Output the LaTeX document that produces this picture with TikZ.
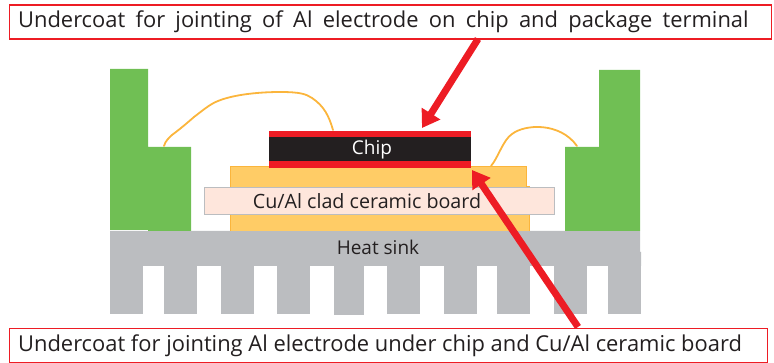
\documentclass[tikz,border=0pt]{standalone}
\usepackage{fontspec}
\setmainfont{Open Sans}
\usetikzlibrary{arrows.meta}
\definecolor{redc}{HTML}{ED1C24}
\definecolor{gr}{HTML}{70BF54}
\definecolor{yel}{HTML}{FFCC66}
\definecolor{yeld}{HTML}{FBB53C}
\definecolor{sink}{HTML}{BBBDC0}
\definecolor{brd}{HTML}{FEE6DC}
\definecolor{blk}{HTML}{231F20}
\tikzset{
 callout/.style={draw=redc,line width=1.3pt,fill=white,inner xsep=9pt,inner ysep=0pt,text=blk,font=\fontsize{21.9}{26}\selectfont,anchor=north west,minimum height=34pt},
 redarrow/.style={draw=redc,line width=7pt,-{Triangle[length=17pt,width=21pt]}},
 wirel/.style={draw=yeld,line width=1.8pt,line cap=round},
 partlabel/.style={inner sep=0pt,text=blk,font=\fontsize{19}{22}\selectfont}
}
\begin{document}
\begin{tikzpicture}[x=1pt,y=-1pt]
\useasboundingbox (0,0) rectangle (774,363);
% heat sink
\fill[sink] (110,231) rectangle (640,266) (640,252) rectangle (641,266);
\foreach \a/\b/\c in {110/143/314,164/197/314,221/254/314,277/310/314,334/364/315,387/420/314,444/477/314,497/530/314,554/587/314,608/641/314}
  \fill[sink] (\a,265) rectangle (\b,\c);
% green terminals
\fill[gr] (110,69) rectangle (148,230) (148,147) rectangle (191,231);
\fill[gr] (599,70) rectangle (640,231) (565,147) rectangle (640,231);
% yellow base
\filldraw[fill=yel,draw=yeld,line width=1pt] (230.5,231) -- (230.5,167) -- (526.5,167) -- (526.5,187) -- (529.5,187) -- (529.5,231);
% board
\node[draw=sink,fill=brd,line width=1.5pt,minimum width=350pt,minimum height=27pt,partlabel,font=\fontsize{19.7}{22}\selectfont] (board) at (379.5,201) {\hspace*{-25pt}Cu/Al clad ceramic board};
% chip
\fill[redc] (269,131) rectangle (471,168);
\node[fill=blk,minimum width=202pt,minimum height=24pt,partlabel,text=white] (chip) at (370,149.5) {\hspace*{4pt}\raisebox{-1.5pt}{Chip}};
\node[partlabel] (hs) at (378,247) {Heat sink};
% wires
\draw[wirel] (164,146) .. controls (165,141) and (170,137) .. (172,135)
  .. controls (180,129) and (186,124) .. (194,117)
  .. controls (202,111) and (210,104) .. (218,101)
  .. controls (235,94) and (262,92) .. (280,92)
  .. controls (300,92) and (306,94) .. (312,98)
  .. controls (324,106) and (329,116) .. (333,130);
\draw[wirel] (491,166) .. controls (498,158) and (503,140) .. (512,134) .. controls (525,124) and (560,122) .. (577,146);
% callouts
\node[callout] (top) at (8.5,4.5) {\makebox[744.5pt][l]{\raisebox{-1.5pt}{\spaceskip=10.3pt Undercoat for jointing of Al electrode on chip and package terminal}}};
\node[callout] (bot) at (8.5,328) {\makebox[740.5pt][l]{\raisebox{-2pt}{Undercoat for jointing Al electrode under chip and Cu/Al ceramic board}}};
% arrows
\coordinate (t1) at (478,39);
\coordinate (t2) at (422,128);
\coordinate (b1) at (578,327);
\coordinate (b2) at (472,170);
\draw[redarrow] (t1) -- (t2);
\draw[redarrow] (b1) -- (b2);
\end{tikzpicture}
\end{document}
